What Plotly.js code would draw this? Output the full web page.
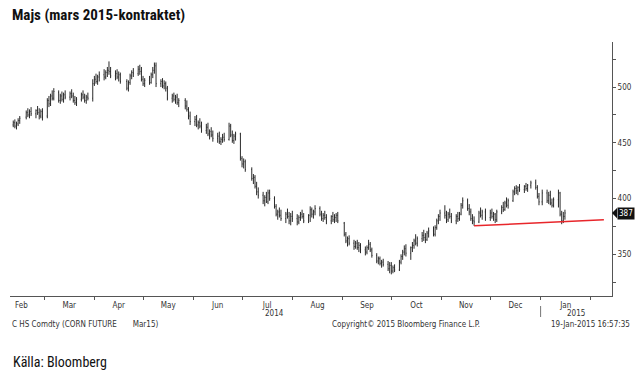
<!DOCTYPE html>
<html>
<head>
<meta charset="utf-8">
<script src="https://cdn.plot.ly/plotly-3.0.1.min.js"></script>
<style>html,body{margin:0;padding:0;background:#fff;}#chart{width:639px;height:376px;}</style>
</head>
<body>
<div id="chart"></div>
<script>
// Trading calendar (month + trading days)
const tradingMonths = ['2014-02','2014-03','2014-04','2014-05','2014-06','2014-07','2014-08','2014-09','2014-10','2014-11','2014-12','2015-01'];
const tradingDays = [
  [10,11,12,13,14,18,19,20,21,24,25,26,27,28],
  [3,4,5,6,7,10,11,12,13,14,17,18,19,20,21,24,25,26,27,28,31],
  [1,2,3,4,7,8,9,10,11,14,15,16,17,21,22,23,24,25,28,29,30],
  [1,2,5,6,7,8,9,12,13,14,15,16,19,20,21,22,23,27,28,29,30],
  [2,3,4,5,6,9,10,11,12,13,16,17,18,19,20,23,24,25,26,27,30],
  [1,2,3,7,8,9,10,11,14,15,16,17,18,21,22,23,24,25,28,29,30,31],
  [1,4,5,6,7,8,11,12,13,14,15,18,19,20,21,22,25,26,27,28,29],
  [2,3,4,5,8,9,10,11,12,15,16,17,18,19,22,23,24,25,26,29,30],
  [1,2,3,6,7,8,9,10,13,14,15,16,17,20,21,22,23,24,27,28,29,30,31],
  [3,4,5,6,7,10,11,12,13,14,17,18,19,20,21,24,25,26,28],
  [1,2,3,4,5,8,9,10,11,12,15,16,17,18,19,22,23,24,26,29,30,31],
  [2,5,6,7,8,9,12,13,14,15,16]
];

const opens = [
  466,468,465,467,470,473,477,475,478,476,479,477,474,478,
  474,488,485,492,490,495,488,492,489,493,491,494,492,488,486,489,493,491,488,491,490,
  503,507,505,509,511,509,513,515,514,510,512,509,511,505,499,504,510,513,512,516,514,
  507,503,506,504,511,515,519,503,505,501,503,499,490,492,489,491,486,488,483,480,474,
  469,471,466,468,465,461,464,458,460,457,454,456,451,453,455,453,465,457,452,456,458,
  436,431,433,426,418,419,411,406,403,398,401,397,405,400,393,386,388,385,382,386,384,380,
  384,382,379,383,386,384,380,385,390,386,388,391,386,382,385,383,380,384,381,383,385,
  378,368,362,364,360,357,360,356,358,354,352,356,359,354,349,344,346,342,343,341,337,
  340,335,338,336,343,348,352,355,351,356,358,362,360,364,367,365,363,369,371,368,374,380,384,
  387,385,381,386,384,380,384,382,386,394,398,391,388,382,380,379,387,385,388,
  383,387,384,386,381,388,392,390,396,394,398,406,409,407,410,408,411,409,412,414,410,402,
  397,405,398,403,396,394,399,405,386,380,384
];
const highs = [
  470,471,469,472,474,479,481,480,482,480,483,481,480,481,
  490,492,494,497,499,497,494,496,495,497,496,498,495,492,491,495,497,494,493,495,507,
  510,512,511,514,516,515,518,523,518,515,516,514,513,507,506,512,515,517,519,520,518,
  510,508,510,513,518,522,522,507,508,506,505,501,494,495,493,494,490,490,488,482,478,
  474,475,470,472,469,467,468,462,464,461,459,460,455,458,459,468,467,461,458,460,459,
  438,436,435,428,422,421,415,410,406,403,406,408,408,402,395,390,392,390,388,391,388,387,
  389,386,385,388,390,387,386,393,392,390,394,393,389,387,389,386,385,388,386,387,388,
  379,370,366,367,363,362,363,361,360,357,358,363,361,356,351,348,348,345,346,344,343,
  343,340,341,345,350,354,358,359,357,361,364,368,366,370,372,369,371,374,375,376,382,386,390,
  394,389,388,391,387,386,388,388,396,401,400,395,391,386,384,389,392,390,391,
  390,391,388,387,390,394,397,398,401,400,408,411,412,411,413,412,414,413,416,417,412,405,
  408,408,406,407,400,401,408,406,389,388,390
];
const lows = [
  464,463,462,465,467,471,473,472,474,472,475,471,472,470,
  472,482,483,488,488,486,485,487,486,489,488,490,486,484,483,487,489,486,485,488,487,
  501,503,502,505,506,507,509,511,508,506,507,505,503,497,496,502,507,509,510,511,505,
  501,500,502,503,508,512,500,500,499,498,496,488,486,487,485,484,482,480,478,471,466,
  465,464,462,463,459,458,456,453,455,451,450,449,448,450,451,452,455,450,449,452,434,
  428,427,424,416,413,409,403,400,395,393,396,395,398,391,384,381,383,380,378,382,377,376,
  379,376,377,380,382,378,378,379,383,382,385,384,380,379,381,377,377,379,378,379,378,
  366,360,357,358,354,355,354,352,351,349,350,354,352,347,342,341,340,338,339,335,333,
  332,333,334,335,341,345,349,348,345,352,355,358,357,361,362,360,362,365,366,366,372,377,380,
  382,378,379,382,378,377,379,380,385,391,389,385,380,377,375.5,378,383,381,380,
  380,382,380,378,379,386,388,389,392,391,397,403,404,403,406,405,407,406,409,408,400,394,
  394,396,395,394,392,392,392,384,377,378,381
];
const closes = [
  468,465,467,470,472,477,475,478,476,479,477,474,478,473,
  488,485,492,490,496,488,492,489,493,491,494,492,488,486,489,493,491,488,491,490,503,
  507,505,509,511,509,513,515,514,510,512,509,511,505,499,504,510,513,512,516,514,507,
  503,506,504,511,515,520,503,505,501,503,499,490,492,489,491,486,488,483,480,474,469,
  471,466,468,465,461,464,458,460,457,454,456,451,453,455,453,465,457,452,456,458,437,
  431,433,426,418,419,411,406,403,398,401,397,405,400,393,386,388,385,382,386,384,380,384,
  382,379,383,386,384,380,385,390,386,388,391,386,382,385,383,380,384,381,383,385,380,
  368,362,364,360,357,360,356,358,354,352,356,359,354,349,344,346,342,343,341,337,340,
  335,338,336,343,348,352,355,351,356,358,362,360,364,367,365,363,369,371,368,374,380,384,387,
  385,381,386,384,380,384,382,386,394,398,391,388,382,380,379,387,385,388,383,
  387,384,386,381,388,392,390,396,394,398,406,409,407,410,408,411,409,412,414,410,402,397,
  405,398,403,396,394,399,405,386,380,384,387
];

// Support (trend) line
const trendDates = ['2014-11-21', '2015-02-09'];
const trendValues = [375.5, 380.9];

// Last price tag
const lastPrice = 387;

// Axis ticks
const yTickVals = [350, 400, 450, 500];
const yTickText = ['350', '400', '450', '500'];

const dates = [];
tradingMonths.forEach((m, i) => tradingDays[i].forEach(d => dates.push(m + '-' + String(d).padStart(2, '0'))));

const smallFont = "'DejaVu Sans Condensed', 'Liberation Sans Narrow', sans-serif";
const narrowFont = "'Liberation Sans Narrow', 'Roboto Condensed', sans-serif";

const traces = [
  {
    type: 'ohlc',
    x: dates, open: opens, high: highs, low: lows, close: closes,
    increasing: {line: {color: '#2a2a2a', width: 1}},
    decreasing: {line: {color: '#2a2a2a', width: 1}},
    tickwidth: 0.35,
    showlegend: false,
    hoverinfo: 'skip'
  },
  {
    type: 'scatter', mode: 'lines',
    x: trendDates, y: trendValues,
    line: {color: '#e8262b', width: 1.5},
    showlegend: false, hoverinfo: 'skip'
  }
];

const W = 639, H = 376, L = 10, R = 27, T = 42, B = 80;
const pw = W - L - R, ph = H - T - B;
const px = x => (x - L) / pw;
const py = y => (T + ph - y) / ph;

const layout = {
  width: W, height: H,
  margin: {l: L, r: R, t: T, b: B, pad: 0},
  paper_bgcolor: '#ffffff', plot_bgcolor: '#ffffff',
  showlegend: false,
  title: {
    text: '<b>Majs (mars 2015-kontraktet)</b>',
    font: {family: narrowFont, size: 15, color: '#111111'},
    x: 12 / W, xanchor: 'left', xref: 'container',
    y: 1 - 15 / H, yanchor: 'middle', yref: 'container'
  },
  xaxis: {
    type: 'date',
    range: ['2014-02-08', '2015-02-14'],
    tickmode: 'linear', tick0: '2014-02-01', dtick: 'M1',
    tickformat: '%b', ticklabelmode: 'period',
    ticks: 'outside', ticklen: 3, tickcolor: '#555', tickwidth: 1,
    ticklabelstandoff: -2,
    showline: true, linecolor: '#555', linewidth: 1,
    showgrid: false, zeroline: false,
    tickfont: {family: smallFont, size: 8, color: '#333'},
    rangeslider: {visible: false},
    fixedrange: true
  },
  yaxis: {
    side: 'right',
    range: [312.6, 540.4],
    tickmode: 'array', tickvals: yTickVals, ticktext: yTickText,
    ticks: 'outside', ticklen: 3, tickcolor: '#555', tickwidth: 1,
    minor: {tickmode: 'linear', tick0: 325, dtick: 50, ticks: 'outside', ticklen: 3, tickcolor: '#555'},
    showline: true, linecolor: '#555', linewidth: 1,
    showgrid: false, zeroline: false,
    tickfont: {family: smallFont, size: 8, color: '#333'},
    fixedrange: true
  },
  shapes: [
    {type: 'path', xref: 'paper', yref: 'y',
     path: `M ${px(612)} ${lastPrice} L ${px(617)} ${lastPrice + 4.6} L ${px(617)} ${lastPrice - 4.6} Z`,
     fillcolor: '#111', line: {width: 0}},
    {type: 'line', xref: 'x', yref: 'paper', x0: '2015-01-01', x1: '2015-01-01', y0: py(306), y1: py(317),
     line: {color: '#777', width: 1}}
  ],
  annotations: [
    {xref: 'paper', yref: 'y', x: px(616.5), y: lastPrice, xanchor: 'left', yanchor: 'middle',
     text: String(lastPrice), showarrow: false, bgcolor: '#111', borderpad: 1,
     font: {family: smallFont, size: 8, color: '#ffffff'}},
    {xref: 'paper', yref: 'paper', x: px(274), y: py(313.5), xanchor: 'center', yanchor: 'middle',
     text: '2014', showarrow: false, font: {family: smallFont, size: 8, color: '#333'}},
    {xref: 'paper', yref: 'paper', x: px(576), y: py(313.5), xanchor: 'center', yanchor: 'middle',
     text: '2015', showarrow: false, font: {family: smallFont, size: 8, color: '#333'}},
    {xref: 'paper', yref: 'paper', x: px(10), y: py(324.5), xanchor: 'left', yanchor: 'middle',
     text: 'C HS Comdty (CORN FUTURE\u00A0\u00A0\u00A0\u00A0\u00A0\u00A0\u00A0Mar15)', showarrow: false,
     font: {family: smallFont, size: 8, color: '#333'}},
    {xref: 'paper', yref: 'paper', x: px(330), y: py(324.5), xanchor: 'left', yanchor: 'middle',
     text: 'Copyright\u00A9 2015 Bloomberg Finance L.P.', showarrow: false,
     font: {family: smallFont, size: 8, color: '#333'}},
    {xref: 'paper', yref: 'paper', x: px(549), y: py(324.5), xanchor: 'left', yanchor: 'middle',
     text: '19-Jan-2015 16:57:35', showarrow: false,
     font: {family: smallFont, size: 8, color: '#333'}},
    {xref: 'paper', yref: 'paper', x: px(11), y: py(362), xanchor: 'left', yanchor: 'middle',
     text: 'Källa: Bloomberg', showarrow: false,
     font: {family: narrowFont, size: 14, color: '#111'}}
  ]
};

Plotly.newPlot('chart', traces, layout, {staticPlot: true, displayModeBar: false});
</script>
</body>
</html>
